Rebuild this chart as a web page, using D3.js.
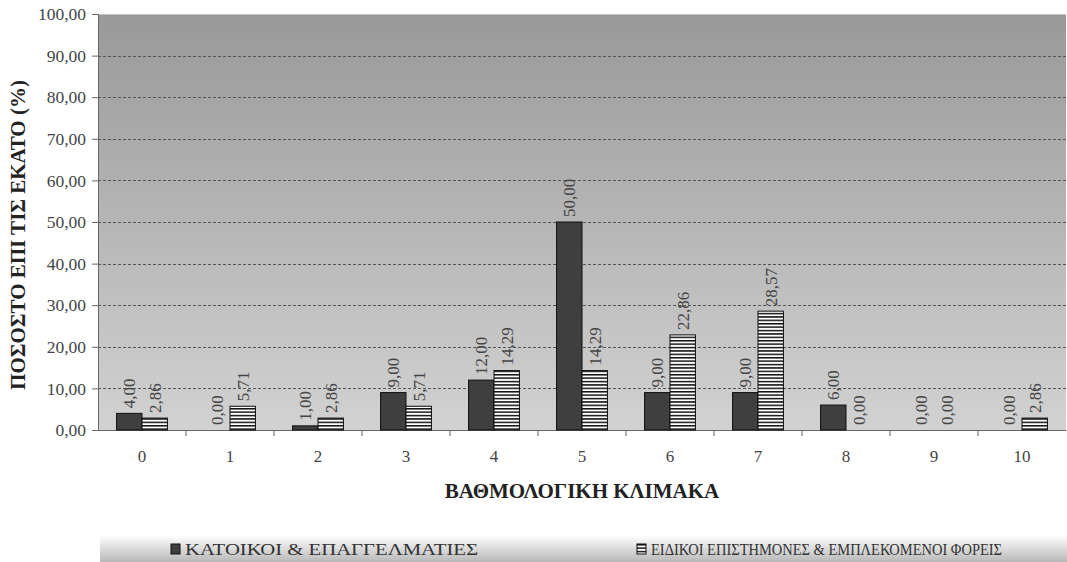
<!DOCTYPE html>
<html><head><meta charset="utf-8">
<script src="https://cdn.jsdelivr.net/npm/d3@7"></script>
<style>body{margin:0;background:#fff}svg{display:block}text{font-family:"Liberation Serif","Times New Roman",serif}</style>
</head><body>
<svg id="c" width="1067" height="562"></svg>
<script>
const categories = ["0","1","2","3","4","5","6","7","8","9","10"];
const seriesNames = ["ΚΑΤΟΙΚΟΙ & ΕΠΑΓΓΕΛΜΑΤΙΕΣ","ΕΙΔΙΚΟΙ ΕΠΙΣΤΗΜΟΝΕΣ & ΕΜΠΛΕΚΟΜΕΝΟΙ ΦΟΡΕΙΣ"];
const residents = [4.00,0.00,1.00,9.00,12.00,50.00,9.00,9.00,6.00,0.00,0.00];
const experts = [2.86,5.71,2.86,5.71,14.29,14.29,22.86,28.57,0.00,0.00,2.86];
const yTicks = [0,10,20,30,40,50,60,70,80,90,100];

const FONT = '"Liberation Serif","Times New Roman",serif';
const svg = d3.select("#c");
const L=98, R=1066, T=14, B=430;
const fmt = v => d3.format(".2f")(v).replace(".", ",");

const defs = svg.append("defs");
const grad = defs.append("linearGradient").attr("id","bg").attr("x1",0).attr("y1",0).attr("x2",0).attr("y2",1);
grad.append("stop").attr("offset","0%").attr("stop-color","#999999");
grad.append("stop").attr("offset","100%").attr("stop-color","#d2d2d2");
const lg = defs.append("linearGradient").attr("id","lg").attr("x1",0).attr("y1",0).attr("x2",0).attr("y2",1);
lg.append("stop").attr("offset","0%").attr("stop-color","#ffffff");
lg.append("stop").attr("offset","100%").attr("stop-color","#b8b8b8");
const pat = defs.append("pattern").attr("id","stripes").attr("patternUnits","userSpaceOnUse").attr("width",6).attr("height",3.4);
pat.append("rect").attr("width",6).attr("height",3.4).attr("fill","#fff");
pat.append("rect").attr("width",6).attr("height",1.5).attr("fill","#111");

const x = d3.scaleBand().domain(categories).range([L,R]);
const xs = d3.scaleBand().domain([0,1]).range([0, x.bandwidth()]).paddingInner(0).paddingOuter(0.73);
const y = d3.scaleLinear().domain([0,100]).range([B,T]);

svg.append("rect").attr("x",L).attr("y",T).attr("width",R-L).attr("height",B-T).attr("fill","url(#bg)");
svg.append("line").attr("x1",L).attr("x2",R).attr("y1",T+0.5).attr("y2",T+0.5).attr("stroke","#c8c8c8");

svg.append("g").selectAll("line").data(yTicks.filter(d=>d>0&&d<100)).join("line")
  .attr("x1",L).attr("x2",R).attr("y1",d=>Math.round(y(d))+0.5).attr("y2",d=>Math.round(y(d))+0.5)
  .attr("stroke","#555").attr("stroke-width",1).attr("stroke-dasharray","3,2");

const ya = svg.append("g").attr("transform",`translate(${L},0)`)
  .call(d3.axisLeft(y).tickValues(yTicks).tickFormat(fmt).tickSize(6).tickPadding(6));
ya.select(".domain").attr("stroke","#666");
ya.selectAll(".tick line").attr("stroke","#666");
ya.selectAll("text").attr("font-family",FONT).attr("font-size",17.5).attr("fill","#444");

const xa = svg.append("g").attr("transform",`translate(0,${B})`)
  .call(d3.axisBottom(x).tickSize(0).tickPadding(20));
xa.select(".domain").attr("stroke","#666");
xa.selectAll("text").attr("font-family",FONT).attr("font-size",17).attr("fill","#444");
xa.append("g").selectAll("line").data(categories.slice(1)).join("line")
  .attr("x1",d=>x(d)).attr("x2",d=>x(d)).attr("y1",0).attr("y2",6).attr("stroke","#666");

const g = svg.append("g");
[residents, experts].forEach((vals, si) => {
  g.append("g").selectAll("rect").data(vals).join("rect")
    .attr("x",(d,i)=>x(categories[i])+xs(si))
    .attr("y",d=>y(d))
    .attr("width",xs.bandwidth())
    .attr("height",d=>B-y(d))
    .attr("fill", si===0 ? "#3f3f3f" : "url(#stripes)")
    .attr("stroke","#111").attr("stroke-width",1)
    .attr("display",d=>d>0?null:"none");
  g.append("g").selectAll("text").data(vals).join("text")
    .attr("transform",(d,i)=>`translate(${x(categories[i])+xs(si)+xs.bandwidth()/2+6},${y(d)-5}) rotate(-90)`)
    .attr("font-family",FONT).attr("font-size",17).attr("fill","#444")
    .text(d=>fmt(d));
});

svg.append("text").attr("transform",`translate(25,${(T+B)/2+13}) rotate(-90)`)
  .attr("text-anchor","middle").attr("font-family",FONT).attr("font-weight","bold")
  .attr("font-size",21).attr("fill","#222").text("ΠΟΣΟΣΤΟ ΕΠΙ ΤΙΣ ΕΚΑΤΟ (%)");
svg.append("text").attr("x",(L+R)/2).attr("y",498).attr("text-anchor","middle")
  .attr("font-family",FONT).attr("font-weight","bold").attr("font-size",21).attr("fill","#222")
  .text("ΒΑΘΜΟΛΟΓΙΚΗ ΚΛΙΜΑΚΑ");

svg.append("rect").attr("x",100).attr("y",535).attr("width",967).attr("height",27).attr("fill","url(#lg)");
const legX = [171, 637];
const legW = [293, 351];
seriesNames.forEach((n,i)=>{
  svg.append("rect").attr("x",legX[i]).attr("y",544).attr("width",9).attr("height",10)
    .attr("fill", i===0 ? "#3f3f3f" : "url(#stripes)").attr("stroke","#111");
  svg.append("text").attr("x",legX[i]+14).attr("y",555).attr("font-family",FONT)
    .attr("font-size",16).attr("fill","#333")
    .attr("textLength",legW[i]).attr("lengthAdjust","spacingAndGlyphs").text(n);
});
</script>
</body></html>
